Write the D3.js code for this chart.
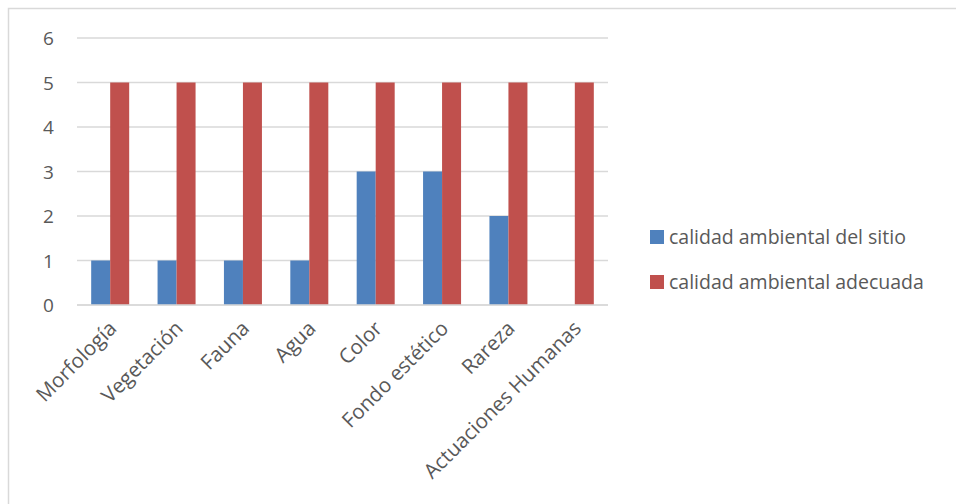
<!DOCTYPE html>
<html><head><meta charset="utf-8">
<script src="https://cdn.jsdelivr.net/npm/d3@7"></script>
<style>body{margin:0;background:#fff}svg{display:block}text{font-family:"Open Sans",sans-serif;fill:#595959}</style>
</head><body><svg id="c" width="956" height="504"></svg>
<script>
const categories = ["Morfología","Vegetación","Fauna","Agua","Color","Fondo estético","Rareza","Actuaciones Humanas"];
const seriesNames = ["calidad ambiental del sitio","calidad ambiental adecuada"];
const sitio = [1,1,1,1,3,3,2,0];
const adecuada = [5,5,5,5,5,5,5,5];
const yTicks = [0,1,2,3,4,5,6];
const colors = ["#4F81BD","#C0504D"];

const svg = d3.select("#c");
svg.append("rect").attr("x",8.5).attr("y",8.5).attr("width",1000).attr("height",1000)
  .attr("fill","none").attr("stroke","#D9D9D9").attr("stroke-width",1.5);

const x0 = d3.scaleBand().domain(categories).range([77,608]).paddingInner(0).paddingOuter(0);
const y = d3.scaleLinear().domain([0,6]).range([305,38]);
const bw = 19;
const x1 = d3.scaleBand().domain([0,1]).range([x0.bandwidth()/2 - bw, x0.bandwidth()/2 + bw]);

svg.append("g").selectAll("line").data(yTicks).join("line")
  .attr("x1",77).attr("x2",608).attr("y1",d=>y(d)).attr("y2",d=>y(d))
  .attr("stroke","#D9D9D9").attr("stroke-width",1.3);

const yAxis = d3.axisLeft(y).tickValues(yTicks).tickFormat(d3.format("d")).tickSize(0).tickPadding(0);
const ga = svg.append("g").attr("transform","translate(48.5,0)").call(yAxis);
ga.select(".domain").remove();
ga.selectAll("text").style("font-size","19px").attr("fill","#595959").attr("text-anchor","middle").attr("dy","0.36em");

const data = categories.map((c,i)=>({c, v:[sitio[i], adecuada[i]]}));
const g = svg.append("g");
data.forEach(d=>{
  d.v.forEach((v,j)=>{
    if(v<=0) return;
    g.append("rect").attr("x",x0(d.c)+x1(j)).attr("width",x1.bandwidth())
      .attr("y",y(v)).attr("height",y(0)-y(v)).attr("fill",colors[j]);
  });
});
svg.append("line").attr("x1",77).attr("x2",608).attr("y1",y(0)).attr("y2",y(0))
  .attr("stroke","#D9D9D9").attr("stroke-width",1.5);

const xAxis = d3.axisBottom(x0).tickSize(0).tickPadding(0);
const gx = svg.append("g").attr("transform","translate(0,318)").call(xAxis);
gx.select(".domain").remove();
gx.selectAll("text").style("font-size","20.5px").attr("fill","#595959")
  .attr("text-anchor","end").attr("dy","0.6em").attr("dx","0")
  .attr("transform","translate(-1,3) rotate(-45)");

const lg = svg.append("g");
seriesNames.forEach((n,i)=>{
  const yy = 237 + i*45;
  lg.append("rect").attr("x",650).attr("y",yy-7).attr("width",14).attr("height",14).attr("fill",colors[i]);
  lg.append("text").attr("x",669).attr("y",yy).attr("dy","0.35em").style("font-size","19.5px").text(n);
});
</script></body></html>
